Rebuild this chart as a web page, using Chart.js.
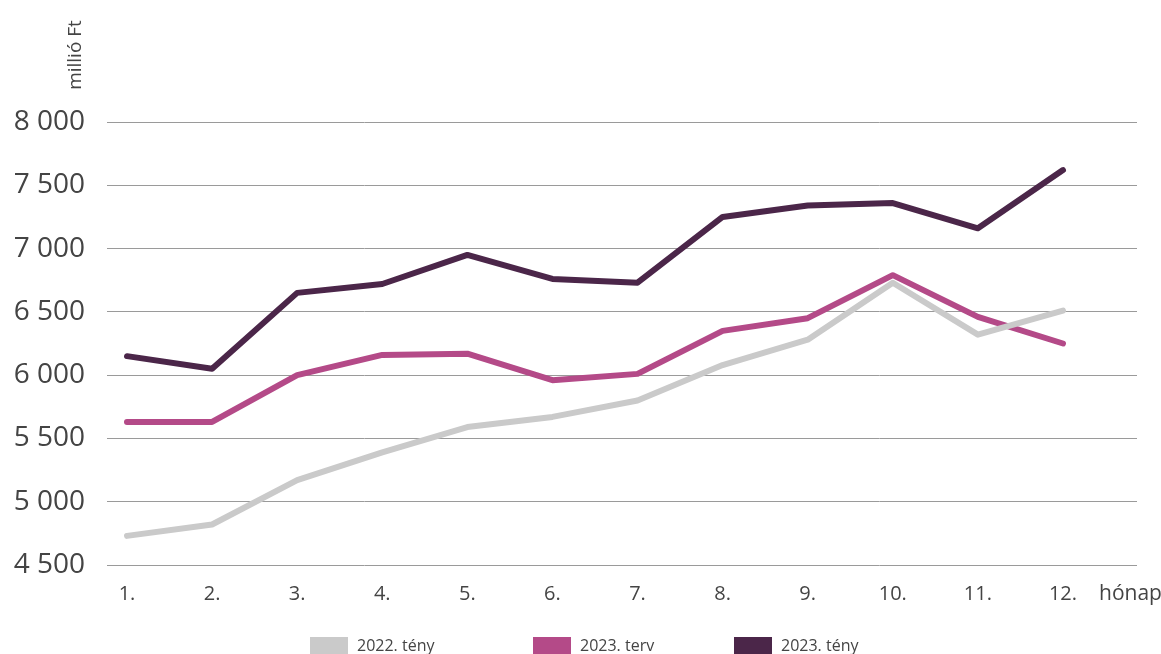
<!DOCTYPE html>
<html>
<head>
<meta charset="utf-8">
<script src="https://cdn.jsdelivr.net/npm/chart.js@4/dist/chart.umd.min.js"></script>
<style>
  html, body { margin: 0; padding: 0; background: #fff; }
  #wrap { position: relative; width: 1161px; height: 654px; }
</style>
</head>
<body>
<div id="wrap"><canvas id="c" width="1161" height="654"></canvas></div>
<script>
// months 1..12, values in millió Ft
const months = [1, 2, 3, 4, 5, 6, 7, 8, 9, 10, 11, 12];
const monthLabels = ['1.', '2.', '3.', '4.', '5.', '6.', '7.', '8.', '9.', '10.', '11.', '12.'];
const seriesNames = ['2022. tény', '2023. terv', '2023. tény'];
const fact2022 = [4730, 4820, 5170, 5390, 5590, 5670, 5800, 6080, 6280, 6730, 6320, 6510];
const plan2023 = [5630, 5630, 6000, 6160, 6170, 5960, 6010, 6350, 6450, 6790, 6460, 6250];
const fact2023 = [6150, 6050, 6650, 6720, 6950, 6760, 6730, 7250, 7340, 7360, 7160, 7620];
const yTicks = [4500, 5000, 5500, 6000, 6500, 7000, 7500, 8000];

const colors = ['#cacaca', '#b44a88', '#4b2649'];
const FONT = '"Open Sans", "Noto Sans", sans-serif';
const TEXT = '#444444';

function pts(values) {
  return months.map(function (m, i) { return { x: m, y: values[i] }; });
}

function lineSet(label, values, color) {
  return {
    label: label,
    data: pts(values),
    borderColor: color,
    backgroundColor: color,
    borderWidth: 6,
    borderJoinStyle: 'round',
    borderCapStyle: 'round',
    pointRadius: 0,
    tension: 0
  };
}

// extra texts + legend
const extras = {
  id: 'extras',
  afterDraw: function (chart) {
    const ctx = chart.ctx;
    ctx.save();
    ctx.fillStyle = TEXT;

    // unit label, rotated
    ctx.save();
    ctx.translate(76, 55);
    ctx.rotate(-Math.PI / 2);
    ctx.font = '19px ' + FONT;
    ctx.textAlign = 'center';
    ctx.textBaseline = 'middle';
    ctx.fillText('millió Ft', 0, 0);
    ctx.restore();

    // x axis name
    ctx.font = '21px ' + FONT;
    ctx.textAlign = 'left';
    ctx.textBaseline = 'middle';
    ctx.fillText('hónap', 1099, 594);

    // legend
    const lx = [310, 533, 734];
    ctx.font = '16px ' + FONT;
    chart.data.datasets.forEach(function (ds, i) {
      ctx.fillStyle = ds.borderColor;
      ctx.fillRect(lx[i], 637, 38, 18);
      ctx.fillStyle = TEXT;
      ctx.fillText(ds.label, lx[i] + 47, 646);
    });
    ctx.restore();
  }
};

new Chart(document.getElementById('c'), {
  type: 'line',
  data: {
    datasets: [
      lineSet(seriesNames[0], fact2022, colors[0]),
      lineSet(seriesNames[1], plan2023, colors[1]),
      lineSet(seriesNames[2], fact2023, colors[2])
    ]
  },
  options: {
    responsive: false,
    animation: false,
    layout: { padding: { top: 122, left: 8, right: 24, bottom: 49 } },
    plugins: { legend: { display: false }, tooltip: { enabled: false } },
    scales: {
      x: {
        type: 'linear',
        min: 0.765,
        max: 12.87,
        grid: { display: false },
        border: { display: false },
        afterFit: function (s) { s.height = 40; },
        ticks: {
          stepSize: 1,
          includeBounds: false,
          padding: 9,
          color: TEXT,
          font: { family: FONT, size: 20 },
          callback: function (v) { return monthLabels[v - 1]; }
        }
      },
      y: {
        min: yTicks[0],
        max: yTicks[yTicks.length - 1],
        border: { display: false },
        afterFit: function (s) { s.width = 99; },
        afterBuildTicks: function (s) { s.ticks = yTicks.map(function (v) { return { value: v }; }); },
        grid: { color: '#9a9a9a', lineWidth: 1, drawTicks: false },
        ticks: {
          padding: 22,
          color: TEXT,
          font: { family: FONT, size: 28 },
          callback: function (v) { return String(v).replace(/\B(?=(\d{3})+(?!\d))/g, ' '); }
        }
      }
    }
  },
  plugins: [extras]
});
</script>
</body>
</html>
